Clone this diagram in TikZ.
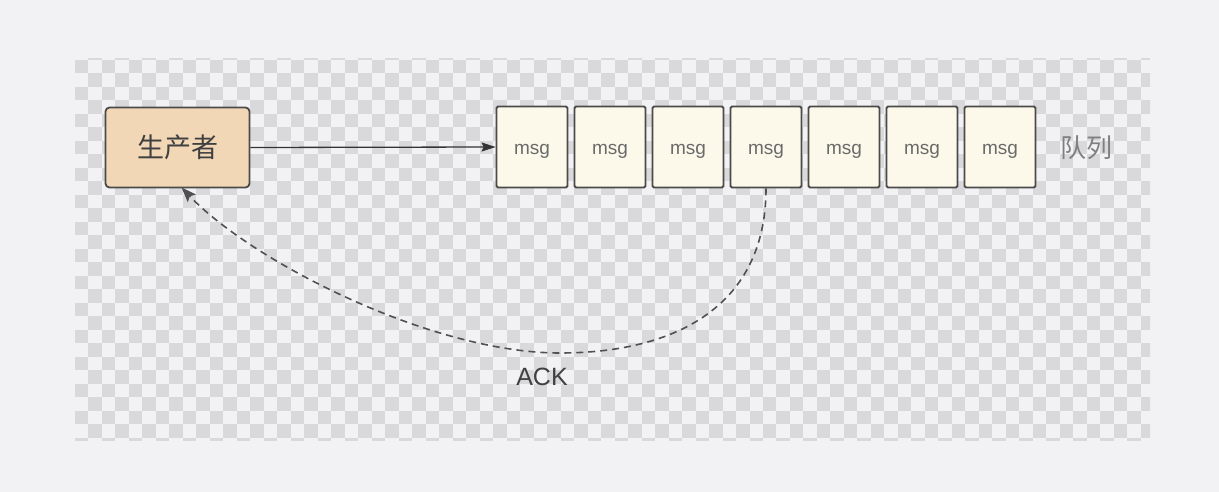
\documentclass[tikz,border=0pt]{standalone}
\usepackage{fontspec}
\setmainfont{Liberation Sans}
\newfontfamily\cjk{Noto Sans CJK SC}
\usetikzlibrary{arrows.meta}
\definecolor{bg}{HTML}{F2F2F4}
\definecolor{chk}{HTML}{D9D9DB}
\definecolor{prodfill}{HTML}{F1D7B6}
\definecolor{msgfill}{HTML}{FCF9EB}
\definecolor{edge}{HTML}{4A4A4A}
\definecolor{msgtext}{HTML}{6A6A6A}
\definecolor{qtext}{HTML}{808080}
\definecolor{acktext}{HTML}{404040}
\definecolor{dashc}{HTML}{505050}
\tikzset{
  prodbox/.style={draw=edge, line width=1.8pt, fill=prodfill, rounded corners=4pt,
    minimum width=144pt, minimum height=80pt, inner sep=0pt,
    font=\fontsize{27}{30}\selectfont\cjk, text=black!75},
  msgbox/.style={draw=edge, line width=1.8pt, fill=msgfill, rounded corners=1.5pt,
    minimum width=71pt, minimum height=81pt, inner sep=0pt,
    text height=19pt, text depth=4pt,
    font=\fontsize{19}{22}\selectfont, text=msgtext},
  sendline/.style={draw=black!80, line width=1.3pt, -{Stealth[length=14pt,width=9pt,inset=2pt]}},
  ackline/.style={draw=dashc, line width=1.6pt, dash pattern=on 7pt off 5pt,
    -{Stealth[length=15pt,width=11pt,inset=3pt]}},
  lbl/.style={inner sep=0pt}
}
\begin{document}
\begin{tikzpicture}[x=1pt,y=-1pt]
\useasboundingbox (0,0) rectangle (1219,492);
\fill[bg] (0,0) rectangle (1219,492);
% checkerboard background
\begin{scope}
  \clip (75,59) rectangle (1150,440.5);
  \foreach \i in {0,...,79} {
    \foreach \j in {-2,0,...,28} {
      \fill[chk] ({75+\i*13.49},{60+(\j+mod(\i,2))*13.49}) rectangle ++(13.49,13.49);
    }
  }
\end{scope}
% producer
\node[prodbox] (prod) at (177.5,147.5) {生产者};
% queue
\foreach \k in {1,...,7} {
  \node[msgbox] (m\k) at ({532+78*(\k-1)},147) {msg};
}
\node[lbl, font=\fontsize{26}{28}\selectfont\cjk, text=qtext, anchor=west] (queue) at (1060,148) {队列};
% send arrow
\draw[sendline] (prod.east) -- (m1.west);
% ack curve
\coordinate (low) at (560,353);
\coordinate (tip) at ([xshift=4pt,yshift=1pt]prod.south);
\draw[ackline] (m4.south) .. controls (766,310) and (670,353) .. (low)
  .. controls (430,353) and (250,260) .. (tip);
\node[lbl, font=\fontsize{25}{28}\selectfont, text=acktext] (ack) at (542,377) {ACK};
\end{tikzpicture}
\end{document}
